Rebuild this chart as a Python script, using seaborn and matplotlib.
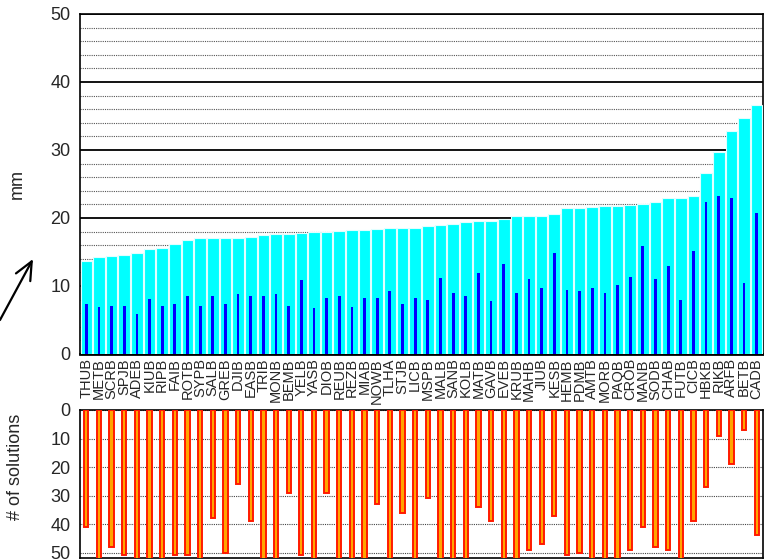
import numpy as np
import pandas as pd
import matplotlib
matplotlib.use("Agg")
import matplotlib.pyplot as plt
from matplotlib.ticker import MultipleLocator
from matplotlib.patches import FancyArrowPatch
import seaborn as sns

stations = ["THUB", "METB", "SCRB", "SPJB", "ADEB", "KIUB", "RIPB", "FAIB", "ROTB",
            "SYPB", "SALB", "GREB", "DJIB", "EASB", "TRIB", "MONB", "BEMB", "YELB",
            "YASB", "DIOB", "REUB", "REZB", "MIAB", "NOWB", "TLHA", "STJB", "LICB",
            "MSPB", "MALB", "SANB", "KOLB", "MATB", "GAVB", "EVEB", "KRUB", "MAHB",
            "JIUB", "KESB", "HEMB", "PDMB", "AMTB", "MORB", "PAQB", "CROB", "MANB",
            "SODB", "CHAB", "FUTB", "CICB", "HBKB", "RIKB", "ARFB", "BETB", "CADB"]

# total scatter (mm)
scatter_mm = [13.7, 14.3, 14.4, 14.6, 14.8, 15.4, 15.6, 16.2, 16.8,
              17.0, 17.1, 17.1, 17.1, 17.2, 17.5, 17.7, 17.7, 17.8,
              17.9, 18.0, 18.1, 18.2, 18.3, 18.4, 18.5, 18.5, 18.5,
              18.8, 18.9, 19.1, 19.4, 19.5, 19.6, 19.8, 20.3, 20.3,
              20.3, 20.6, 21.5, 21.5, 21.6, 21.7, 21.8, 21.9, 22.1,
              22.3, 22.9, 23.0, 23.3, 26.6, 29.7, 32.8, 34.7, 36.6]

# best-solution value (mm)
best_mm = [7.4, 6.9, 7.1, 7.0, 5.9, 8.1, 7.0, 7.4, 8.5,
           7.1, 8.6, 7.3, 8.8, 8.5, 8.6, 8.8, 7.0, 10.9,
           6.8, 8.3, 8.5, 6.9, 8.3, 8.3, 9.3, 7.4, 8.3,
           8.0, 11.2, 8.9, 8.5, 11.9, 7.8, 13.2, 9.0, 11.1,
           9.7, 14.9, 9.4, 9.3, 9.7, 8.9, 10.2, 11.3, 15.9,
           11.0, 13.0, 8.0, 15.1, 22.4, 23.2, 23.0, 10.4, 20.7]

# number of solutions (values >= 52 run off the bottom of the panel)
n_solutions = [41, 100, 48, 51, 100, 100, 100, 51, 51,
               100, 38, 50, 26, 39, 100, 100, 29, 51,
               100, 29, 100, 100, 100, 33, 100, 36, 100,
               31, 100, 100, 100, 34, 39, 100, 100, 49,
               47, 37, 51, 50, 100, 100, 100, 49, 41,
               48, 49, 100, 39, 27, 9, 19, 7, 44]

df = pd.DataFrame({"station": stations, "scatter": scatter_mm,
                   "best": best_mm, "nsol": n_solutions})

sns.set_style("white")
plt.rcParams["font.family"] = ["Liberation Sans", "DejaVu Sans"]

fig = plt.figure(figsize=(7.64, 5.60), dpi=100)
W, H = 764, 560
left, right = 80, 763
ax1 = fig.add_axes([left / W, 1 - 354 / H, (right - left) / W, 340 / H])
ax2 = fig.add_axes([left / W, 1 - 558 / H, (right - left) / W, 148 / H])

# --- upper panel: scatter in mm ---
sns.barplot(data=df, x="station", y="scatter", order=stations, color="#00FFFF",
            saturation=1, width=0.92, edgecolor="#E0FFFF", linewidth=0.8, ax=ax1, zorder=3)
sns.barplot(data=df, x="station", y="best", order=stations, color="#0000FF",
            saturation=1, width=0.22, linewidth=0, ax=ax1, zorder=4)
ax1.set_ylim(0, 50)
ax1.set_xlim(-0.5, len(stations) - 0.5)
ax1.yaxis.set_major_locator(MultipleLocator(10))
ax1.yaxis.set_minor_locator(MultipleLocator(2))
ax1.grid(which="major", axis="y", color="black", linestyle="-", linewidth=1.3, zorder=1)
ax1.grid(which="minor", axis="y", color="#555555", linestyle=(0, (1, 1)), linewidth=0.8, zorder=1)
ax1.set_axisbelow(True)
ax1.set_xlabel("")
ax1.set_ylabel("mm", fontsize=13)
ax1.yaxis.set_label_coords((26 - left) / (right - left), 0.5)
ax1.tick_params(axis="y", which="both", length=0, labelsize=13, pad=7)
ax1.tick_params(axis="x", length=0, labelsize=10.5, pad=3)
ax1.set_xticks(range(len(stations)))
ax1.set_xticklabels(stations, rotation=90)
for s in ax1.spines.values():
    s.set_color("black")
    s.set_linewidth(1.2)
ax1.spines["bottom"].set_linewidth(2)

# --- lower panel: number of solutions ---
sns.barplot(data=df, x="station", y="nsol", order=stations, color="#FFA500",
            saturation=1, width=0.34, edgecolor="#FF1A00", linewidth=1.4, ax=ax2, zorder=3)
ax2.set_ylim(51.9, 0)
ax2.set_xlim(-0.5, len(stations) - 0.5)
ax2.set_yticks([0, 10, 20, 30, 40, 50])
ax2.grid(which="major", axis="y", color="#444444", linestyle=(0, (1, 1)), linewidth=0.8, zorder=1)
ax2.set_axisbelow(True)
ax2.set_xticks([])
ax2.set_xlabel("")
ax2.set_ylabel("# of solutions", fontsize=13)
ax2.yaxis.set_label_coords((24 - left) / (right - left), (558 - 467) / 148)
ax2.tick_params(axis="y", length=0, labelsize=13, pad=7)
for s in ax2.spines.values():
    s.set_color("black")
    s.set_linewidth(1.2)

# arrow at the left margin
arrow = FancyArrowPatch((0 / W, 1 - 320 / H), (33 / W, 1 - 259 / H),
                        transform=fig.transFigure,
                        arrowstyle="->,head_length=1.0,head_width=0.45",
                        mutation_scale=13, color="black", linewidth=1.6,
                        shrinkA=0, shrinkB=0)
fig.add_artist(arrow)

fig.savefig("out.png", dpi=100)
